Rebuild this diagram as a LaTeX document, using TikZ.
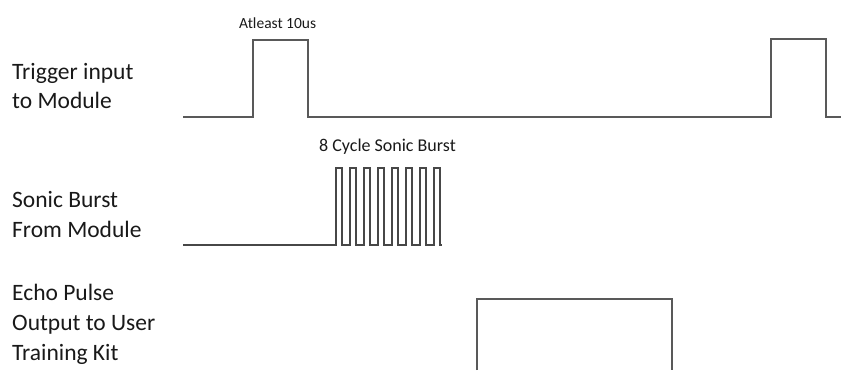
\documentclass[tikz,border=0pt]{standalone}
\usepackage{fontspec}
\setmainfont{Carlito}
\begin{document}
\begin{tikzpicture}[x=1pt,y=-1pt,
  wave/.style={draw=black!65,line width=2pt,line join=miter},
  thinwave/.style={draw=black!72,line width=1.2pt,line join=miter},
  lbl/.style={anchor=base west,inner sep=0pt,font=\fontsize{23.5}{30}\selectfont,text=black!90},
  note/.style={anchor=base west,inner sep=0pt,text=black!90}]
\useasboundingbox (0,0) rectangle (841,370);
% labels
\node[lbl] (trig1) at (12,79) {Trigger input};
\node[lbl] (trig2) at (12,108) {to Module};
\node[lbl] (sonic1) at (12,207) {Sonic Burst};
\node[lbl] (sonic2) at (12,237) {From Module};
\node[lbl] (echo1) at (12,300) {Echo Pulse};
\node[lbl] (echo2) at (12,330) {Output to User};
\node[lbl] (echo3) at (12,360) {Training Kit};
\node[note,font=\fontsize{15.5}{18}\selectfont] (atl) at (239,28) {Atleast 10us};
\node[note,font=\fontsize{18}{20}\selectfont] (cyc) at (319,151) {8 Cycle Sonic Burst};
% trigger waveform
\draw[wave] (183,117) -- (253,117) -- (253,40) -- (308,40) -- (308,117) -- (771,117) -- (771,39) -- (826,39) -- (826,117) -- (841,117);
% sonic burst waveform
\draw[thinwave] (183,245) -- (336,245)
  \foreach \i in {0,...,7} { -- ({336+14*\i},245) -- ({336+14*\i},168) -- ({342+14*\i},168) -- ({342+14*\i},245) } -- (442,245);
% echo pulse
\draw[wave] (477,370) -- (477,299) -- (672,299) -- (672,370);
\end{tikzpicture}
\end{document}
